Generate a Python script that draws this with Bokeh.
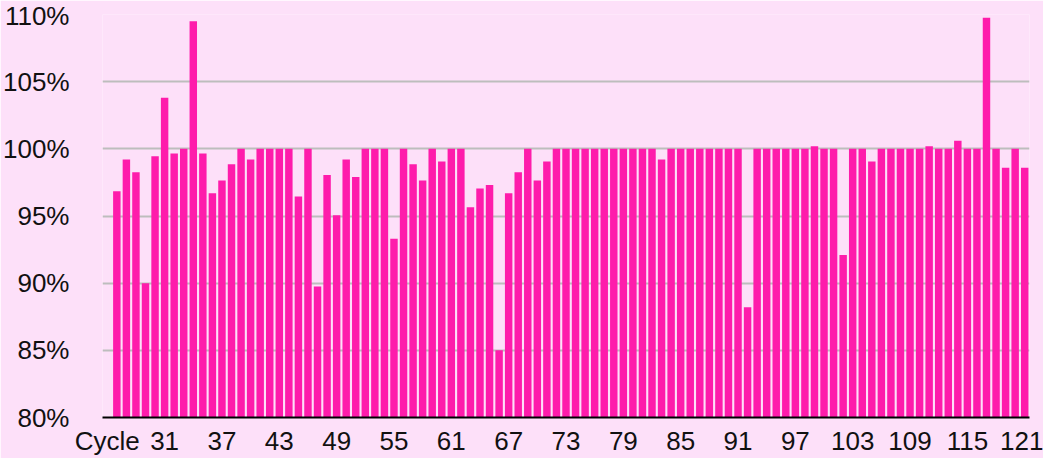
from bokeh.plotting import figure
from bokeh.models import FactorRange, Range1d, FixedTicker, PrintfTickFormatter, ColumnDataSource, CustomJSTickFormatter
from bokeh.embed import file_html
from bokeh.resources import INLINE

# ---- data ----
first_label = "Cycle"
cycles = list(range(26, 122))
values = [
    96.85, 99.2, 98.25, 90.0, 99.45, 103.8, 99.65, 100.0, 109.5, 99.65,   # 26-35
    96.7, 97.65, 98.85, 100.0, 99.2, 100.0, 100.0, 100.0, 100.0, 96.45,   # 36-45
    100.0, 89.75, 98.05, 95.05, 99.2, 97.9, 100.0, 100.0, 100.0, 93.3,   # 46-55
    100.0, 98.85, 97.65, 100.0, 99.05, 100.0, 100.0, 95.65, 97.05, 97.3, # 56-65
    85.0, 96.7, 98.25, 100.0, 97.65, 99.05, 100.0, 100.0, 100.0, 100.0,  # 66-75
    100.0, 100.0, 100.0, 100.0, 100.0, 100.0, 100.0, 99.2, 100.0, 100.0, # 76-85
    100.0, 100.0, 100.0, 100.0, 100.0, 100.0, 88.2, 100.0, 100.0, 100.0, # 86-95
    100.0, 100.0, 100.0, 100.2, 100.0, 100.0, 92.1, 100.0, 100.0, 99.05, # 96-105
    100.0, 100.0, 100.0, 100.0, 100.0, 100.2, 100.0, 100.0, 100.6, 100.0,# 106-115
    100.0, 109.75, 100.0, 98.6, 100.0, 98.6,                              # 116-121
]
y_ticks = [80, 85, 90, 95, 100, 105, 110]
label_every = 6

BG = "#FDE0F9"
BAR = "#FE1CAB"
FONT = "Liberation Sans"

factors = [first_label] + [str(c) for c in cycles]
src = ColumnDataSource(dict(cat=[str(c) for c in cycles], val=values))

p = figure(
    width=1043, height=458,
    x_range=FactorRange(factors=factors),
    y_range=Range1d(y_ticks[0], y_ticks[-1]),
    output_backend="svg", toolbar_location=None,
    min_border_left=99, min_border_right=14, min_border_top=14, min_border_bottom=38,
)
p.background_fill_color = BG
p.border_fill_color = BG
p.outline_line_color = None

p.vbar(x="cat", top="val", bottom=y_ticks[0], width=0.78, source=src,
       fill_color=BAR, line_color=None)

# x axis
p.xaxis.axis_line_color = "black"
p.xaxis.axis_line_width = 2
p.xaxis.major_tick_line_color = None
p.xaxis.major_tick_out = 0
p.xaxis.minor_tick_line_color = None
p.xaxis.major_label_standoff = 8
p.xaxis.major_label_text_font = FONT
p.xaxis.major_label_text_font_size = "26px"
p.xaxis.major_label_text_color = "#111111"
p.xaxis.formatter = CustomJSTickFormatter(
    args=dict(every=label_every),
    code="return (index % every == 0) ? tick : '';")
p.xgrid.grid_line_color = None

# y axis
p.yaxis.ticker = FixedTicker(ticks=y_ticks)
p.yaxis.formatter = PrintfTickFormatter(format="%d%%")
p.yaxis.axis_line_color = None
p.yaxis.major_tick_line_color = None
p.yaxis.minor_tick_line_color = None
p.yaxis.major_tick_out = 0
p.yaxis.major_label_standoff = 33
p.yaxis.major_label_text_font = FONT
p.yaxis.major_label_text_font_size = "26px"
p.yaxis.major_label_text_color = "#111111"
p.ygrid.grid_line_color = "#BDBDBD"
p.ygrid.grid_line_width = 2

open("out.html", "w").write(file_html(p, INLINE))
